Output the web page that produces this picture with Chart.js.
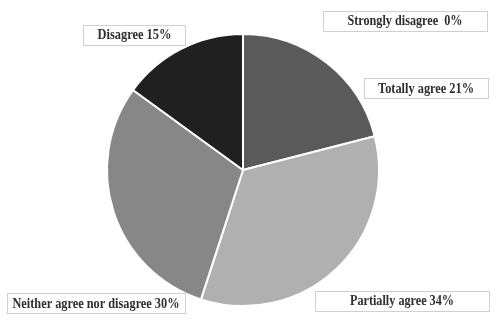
<!DOCTYPE html>
<html>
<head>
<meta charset="utf-8">
<script src="https://cdn.jsdelivr.net/npm/chart.js@4.4.1/dist/chart.umd.min.js"></script>
<style>
  html, body { margin: 0; padding: 0; background: #fff; }
  #wrap { width: 497px; height: 320px; }
</style>
</head>
<body>
<div id="wrap"><canvas id="pie" width="497" height="320"></canvas></div>
<script>
// answers and their share in percent
var categories = ["Totally agree", "Partially agree", "Neither agree nor disagree", "Disagree", "Strongly disagree"];
var shares = [21, 34, 30, 15, 0];
var labelText = ["Totally agree 21%", "Partially agree 34%", "Neither agree nor disagree 30%", "Disagree 15%", "Strongly disagree  0%"];

var sliceColors = ['#5a5a5a', '#b0b0b0', '#878787', '#202020', '#e0e0e0'];

// where the boxed labels sit, relative to pie centre in units of the radius
var labelPlace = [
    {dx: 1.346, dy: -0.603, w: 124, textW: 96},
    {dx: 1.169, dy: 0.960, w: 174, textW: 104},
    {dx: -1.081, dy: 0.978, w: 178, textW: 167},
    {dx: -0.798, dy: -0.996, w: 102, textW: 74},
    {dx: 1.191, dy: -1.099, w: 164, textW: 115}
];

var boxLabels = {
    id: 'boxLabels',
    afterDatasetsDraw: function (chart) {
        var ctx = chart.ctx;
        var arcs = chart.getDatasetMeta(0).data;
        ctx.save();
        ctx.font = 'bold 14px "Liberation Serif", "Times New Roman", serif';
        ctx.textAlign = 'center';
        ctx.textBaseline = 'middle';
        arcs.forEach(function (arc, i) {
            var p = labelPlace[i];
            var r = arc.outerRadius;
            var cx = arc.x + p.dx * r;
            var cy = arc.y + p.dy * r;
            var h = 20;
            ctx.fillStyle = '#fff';
            ctx.fillRect(cx - p.w / 2, cy - h / 2, p.w, h);
            ctx.strokeStyle = '#d0d0d0';
            ctx.lineWidth = 1;
            ctx.strokeRect(Math.round(cx - p.w / 2) + 0.5, Math.round(cy - h / 2) + 0.5, p.w, h);
            ctx.fillStyle = '#2e2e2e';
            var tw = ctx.measureText(labelText[i]).width;
            ctx.save();
            ctx.translate(cx, cy + 1);
            // the original face is narrow, squeeze to its width
            ctx.scale(p.textW / tw, 1);
            ctx.fillText(labelText[i], 0, 0);
            ctx.restore();
        });
        ctx.restore();
    }
};

var pie = new Chart(document.getElementById('pie'), {
    type: 'pie',
    data: {
        labels: categories,
        datasets: [
            {
                data: shares,
                backgroundColor: sliceColors,
                borderColor: '#ffffff',
                borderWidth: 2,
                hoverOffset: 0
            }
        ]
    },
    options: {
        responsive: false,
        animation: false,
        layout: {
            padding: {left: 106, right: 117, top: 33, bottom: 13}
        },
        plugins: {
            legend: {display: false},
            tooltip: {enabled: false}
        }
    },
    plugins: [boxLabels]
});
</script>
</body>
</html>
